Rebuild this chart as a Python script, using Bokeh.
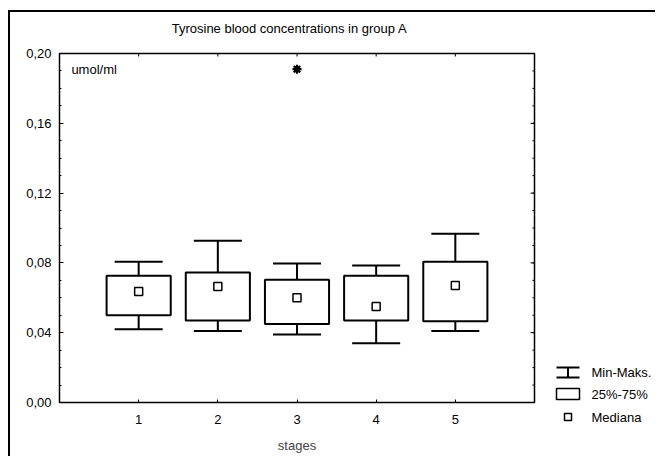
import math
from bokeh.plotting import figure
from bokeh.models import Range1d, FixedTicker, CustomJSTickFormatter, Label
from bokeh.embed import file_html
from bokeh.resources import INLINE
from bokeh.core.properties import value

# ---- data ----
stages = [1, 2, 3, 4, 5]
mins = [0.042, 0.041, 0.039, 0.034, 0.041]
q1s = [0.050, 0.047, 0.045, 0.047, 0.0465]
medians = [0.0636, 0.0665, 0.060, 0.055, 0.067]
q3s = [0.0727, 0.0745, 0.0703, 0.0726, 0.0806]
maxs = [0.0806, 0.0927, 0.0796, 0.0785, 0.0967]
extreme_stage = [3]
extreme_value = [0.191]
y_ticks = [0.00, 0.04, 0.08, 0.12, 0.16, 0.20]
legend_labels = ["Min-Maks.", "25%-75%", "Mediana"]
title_text = "Tyrosine blood concentrations in group A"

FONT = "Liberation Sans"
FS = "13px"
X_MAX, Y_MAX = 6, 0.2

# page geometry (figure placed at x=10, y=12 after margin + border)
FIG_X, FIG_Y = 10, 12
BL, BT, FW, FH = 49, 41, 475, 349
W, H = 647, 446

p = figure(width=W, height=H, x_range=Range1d(0, X_MAX), y_range=Range1d(0, Y_MAX),
           output_backend="svg", toolbar_location=None,
           min_border_left=BL, min_border_right=W - BL - FW, min_border_top=BT,
           min_border_bottom=H - BT - FH)
p.styles = {"border-left": "2px solid black", "border-top": "2px solid black",
            "margin-left": "8px", "margin-top": "10px"}
p.grid.visible = False
p.outline_line_color = "black"
p.outline_line_width = 1.5
p.outline_line_alpha = 1.0
p.background_fill_color = "white"
p.border_fill_color = "white"

# page-pixel ranges for items drawn outside the frame (title, legend)
fx0 = FIG_X + BL
fy0 = FIG_Y + BT
p.extra_x_ranges = {"px": Range1d(fx0, fx0 + FW)}
p.extra_y_ranges = {"px": Range1d(fy0 + FH, fy0)}

minor = [i * 0.01 for i in range(21)]
fmt = CustomJSTickFormatter(code="return tick.toFixed(2).replace('.', ',');")

ya = p.yaxis[0]
ya.ticker = FixedTicker(ticks=y_ticks, minor_ticks=minor)
ya.formatter = fmt
ya.axis_line_color = None
ya.major_tick_in = 4
ya.major_tick_out = 0
ya.minor_tick_in = 2
ya.minor_tick_out = 0
ya.major_label_standoff = 8
ya.major_label_text_font = FONT
ya.major_label_text_font_size = FS
ya.major_label_text_color = "black"

xa = p.xaxis[0]
xa.ticker = FixedTicker(ticks=stages, minor_ticks=[])
xa.axis_line_color = None
xa.major_tick_in = 3
xa.major_tick_out = 0
xa.minor_tick_in = 0
xa.minor_tick_out = 0
xa.major_label_standoff = 12
xa.major_label_text_font = FONT
xa.major_label_text_font_size = FS
xa.major_label_text_color = "black"
xa.axis_label = "stages"
xa.axis_label_text_font = FONT
xa.axis_label_text_font_size = FS
xa.axis_label_text_font_style = "normal"
xa.axis_label_standoff = 11

# inner ticks on the right and top frame edges
p.scatter(x=[X_MAX] * len(y_ticks), y=y_ticks, marker="dash", size=8, line_color="black", line_width=1)
p.scatter(x=[X_MAX] * len(minor), y=minor, marker="dash", size=4, line_color="black", line_width=1)
p.scatter(x=stages, y=[Y_MAX] * len(stages), marker="dash", angle=math.pi / 2, size=6,
          line_color="black", line_width=1)

# whisker stems
p.segment(x0=stages, y0=q3s, x1=stages, y1=maxs, line_color="black", line_width=2)
p.segment(x0=stages, y0=q1s, x1=stages, y1=mins, line_color="black", line_width=2)
# whisker caps
p.scatter(x=stages, y=maxs, marker="dash", size=48, line_color="black", line_width=2)
p.scatter(x=stages, y=mins, marker="dash", size=48, line_color="black", line_width=2)
# boxes
p.vbar(x=stages, width=0.81, bottom=q1s, top=q3s, fill_color="white",
       line_color="black", line_width=2)
# medians
p.scatter(x=stages, y=medians, marker="square", size=8, fill_color="white",
          line_color="black", line_width=1.5)
# extreme
p.scatter(x=extreme_stage, y=extreme_value, marker="asterisk", size=9,
          line_color="black", line_width=2.2)

p.add_layout(Label(x=0.15, y=0.191, text="umol/ml", text_font=FONT, text_font_size=FS,
                   text_baseline="middle", text_color="black"))

kw = dict(x_range_name="px", y_range_name="px", level="overlay")

# title (above the frame, page-pixel coordinates)
p.text(x=[289], y=[28], text=[title_text], text_font=value(FONT), text_font_size=FS,
       text_align="center", text_baseline="middle", text_color="black", **kw)

# ---- legend (outside the frame, page-pixel coordinates) ----
sx0, sx1 = 556, 579
sxc = (sx0 + sx1) / 2
ly = [372, 393.5, 416.5]
tx = 591
p.segment(x0=[sx0, sx0, sxc], y0=[ly[0] - 5, ly[0] + 5, ly[0] - 5],
          x1=[sx1, sx1, sxc], y1=[ly[0] - 5, ly[0] + 5, ly[0] + 5],
          line_color="black", line_width=2, **kw)
p.quad(left=[sx0], right=[sx1], top=[ly[1] - 5.5], bottom=[ly[1] + 5.5],
       fill_color="white", line_color="black", line_width=1.5, **kw)
p.quad(left=[sxc - 3.5], right=[sxc + 3.5], top=[ly[2] - 3.5], bottom=[ly[2] + 3.5],
       fill_color="white", line_color="black", line_width=1.5, **kw)
p.text(x=[tx] * 3, y=ly, text=legend_labels, text_font=value(FONT),
       text_font_size=FS, text_baseline="middle", text_color="black", **kw)

open("out.html", "w").write(file_html(p, INLINE))
